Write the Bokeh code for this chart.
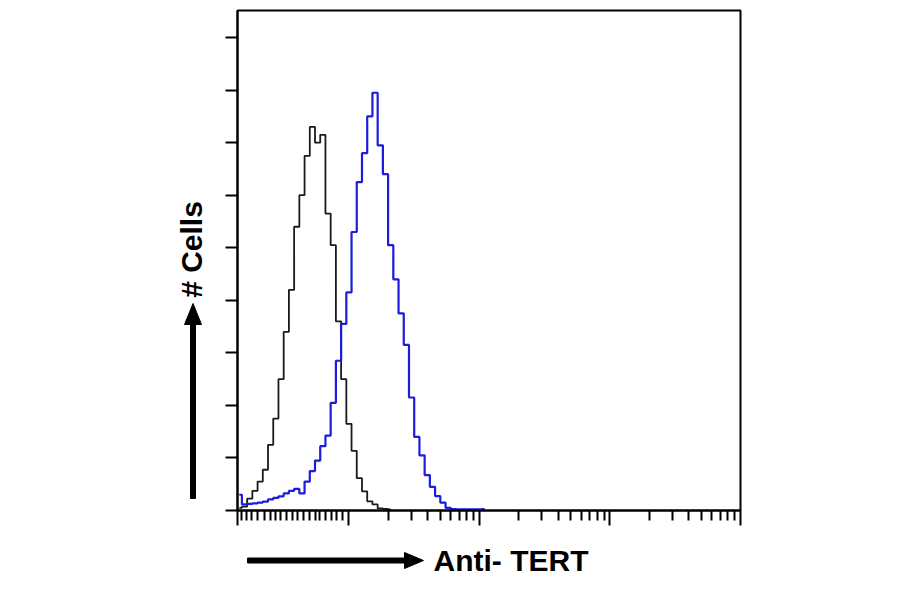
from bokeh.plotting import figure
from bokeh.models import Range1d, FixedTicker, ColumnDataSource
from bokeh.layouts import column, row
from bokeh.embed import file_html
from bokeh.resources import INLINE
from bokeh.core.properties import value
import math

# ---- data (channel intensity, counts) ----
channel = [1.445, 1.585, 1.738, 1.905, 2.089, 2.291, 2.512, 2.754, 3.020, 3.311,
           3.631, 3.981, 4.365, 4.786, 5.248, 5.754, 6.310, 6.918, 7.586, 8.318,
           9.120, 10.00, 10.96, 12.02, 13.18, 14.45, 15.85, 17.38, 19.05, 20.89,
           22.91, 25.12, 27.54, 30.20, 33.11, 36.31, 39.81, 43.65, 47.86, 52.48,
           57.54, 63.10, 69.18, 75.86, 83.18, 91.20, 100.0, 109.6]

control_counts = [1, 1.5, 4.5, 7.5, 11, 15.5, 25, 35, 50, 68,
                  84, 108, 120, 135, 146, 140, 143, 113, 101, 72,
                  50, 33, 22.7, 12.3, 7.3, 3.5, 2.3, 0.8, 0.6, 0.4]

tert_counts = [6, 2.3, 2.5, 2.7, 3.0, 3.4, 4.2, 4.8, 5.4, 6.5,
               7.5, 8.2, 6.5, 11, 15, 19, 24.5, 28.5, 41, 57,
               71, 83, 106, 125, 136, 150, 159, 139, 128, 101,
               88, 75, 63, 43, 28, 21, 13.5, 9, 5.5, 3,
               1, 0.5, 0.4, 0.4, 0.4, 0.4, 0.4, 0.5]

x_major_ticks = [1.4, 10, 100, 1000, 10000]
x_minor_ticks = [1.5, 1.65, 1.8, 2, 2.25, 2.5, 2.75, 3, 3.33, 3.67, 4, 4.5, 5,
                 5.5, 6, 6.67, 7.33, 8, 9,
                 20, 30, 40, 50, 60, 70, 80, 90,
                 200, 300, 400, 500, 600, 700, 800, 900,
                 2000, 3000, 4000, 5000, 6000, 7000, 8000, 9000]
y_ticks = [0, 20, 40, 60, 80, 100, 120, 140, 160, 180]

x_label = "Anti- TERT"
y_label = "# Cells"

X_LO, X_HI = 1.4, 10000
Y_LO, Y_HI = 0, 190.3

# page geometry (pixels)
PAGE_W = 884
LEFT_W = 210          # strip holding the "# Cells" arrow
TOP_H = 530           # height of the row with the chart
BOTTOM_H = 62         # strip holding the "Anti- TERT" arrow
FL, FR, FT, FB = 237, 740, 10, 510   # frame edges on the page

# ---- main chart ----
MAIN_W = PAGE_W - LEFT_W
p = figure(width=MAIN_W, height=TOP_H, x_axis_type="log",
           x_range=Range1d(X_LO, X_HI), y_range=Range1d(Y_LO, Y_HI),
           output_backend="svg", toolbar_location=None,
           min_border_left=FL - LEFT_W, min_border_right=PAGE_W - FR,
           min_border_top=FT, min_border_bottom=TOP_H - FB)
p.grid.visible = False
p.outline_line_color = "black"
p.outline_line_width = 2
p.background_fill_color = "white"
p.border_fill_color = "white"

xa = p.xaxis[0]
xa.ticker = FixedTicker(ticks=x_major_ticks, minor_ticks=x_minor_ticks)
xa.major_label_text_font_size = "0px"
xa.major_label_text_alpha = 0
xa.major_tick_in = 0
xa.major_tick_out = 15
xa.minor_tick_in = 0
xa.minor_tick_out = 10
xa.axis_line_width = 2
xa.major_tick_line_width = 2
xa.minor_tick_line_width = 2
xa.major_label_standoff = 0

ya = p.yaxis[0]
ya.ticker = FixedTicker(ticks=y_ticks, minor_ticks=[])
ya.major_label_text_font_size = "0px"
ya.major_label_text_alpha = 0
ya.major_tick_in = 0
ya.major_tick_out = 12
ya.minor_tick_out = 0
ya.axis_line_width = 2
ya.major_tick_line_width = 2
ya.major_label_standoff = 0

ctrl_src = ColumnDataSource(dict(x=channel[:len(control_counts)], y=control_counts))
tert_src = ColumnDataSource(dict(x=channel[:len(tert_counts)], y=tert_counts))
p.step("x", "y", source=ctrl_src, mode="center", line_color="#1a1a1a", line_width=1.8)
p.step("x", "y", source=tert_src, mode="center", line_color="#1c1cdc", line_width=2.2)


def strip(w, h, top, bottom_b, xr, yr):
    f = figure(width=w, height=h, x_range=xr, y_range=yr,
               title=None, output_backend="svg", toolbar_location=None,
               x_axis_location=None, y_axis_location=None,
               min_border_left=0, min_border_right=0,
               min_border_top=top, min_border_bottom=bottom_b)
    f.grid.visible = False
    f.outline_line_color = None
    f.background_fill_color = "white"
    f.border_fill_color = "white"
    return f


# ---- left strip: vertical arrow + "# Cells" ----
# same vertical borders as the chart, so its frame spans page y FT..FB (y down)
left = strip(LEFT_W, TOP_H, FT, TOP_H - FB, Range1d(0, LEFT_W), Range1d(FB, FT))
up_x = [190, 195, 195, 201, 192.5, 184, 190]
up_y = [498, 498, 324, 324, 303, 324, 324]
left.patch(up_x, up_y, fill_color="black", line_color="black", line_width=1)
left.text(x=[191], y=[249], text=[y_label], angle=math.pi / 2,
          text_align="center", text_baseline="middle",
          text_font=value("Liberation Sans"), text_font_style="bold",
          text_font_size="30px", text_color="black")

# ---- bottom strip: horizontal arrow + "Anti- TERT" ----
B_TOP, B_BOT = 6, 4
bottom = strip(PAGE_W, BOTTOM_H, B_TOP, B_BOT, Range1d(0, PAGE_W),
               Range1d(TOP_H + BOTTOM_H - B_BOT, TOP_H + B_TOP))
rt_x = [247, 404, 404, 423, 404, 404, 247]
rt_y = [557.5, 557.5, 552, 560, 568, 562.5, 562.5]
bottom.patch(rt_x, rt_y, fill_color="black", line_color="black", line_width=1)
bottom.text(x=[433], y=[560], text=[x_label],
            text_align="left", text_baseline="middle",
            text_font=value("Liberation Sans"), text_font_style="bold",
            text_font_size="30px", text_color="black")

layout = column(row(left, p, spacing=0), bottom, spacing=0)

open("out.html", "w").write(file_html(layout, INLINE))
